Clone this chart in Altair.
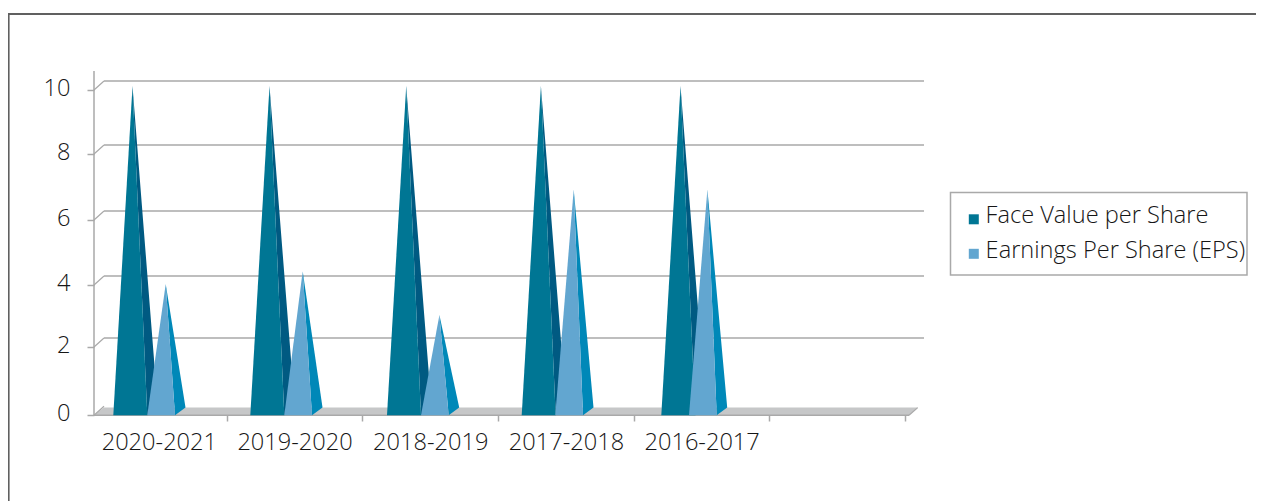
import altair as alt
import pandas as pd

# ---------- chart values ----------
categories = ["2020-2021", "2019-2020", "2018-2019", "2017-2018", "2016-2017"]
face_value = [10, 10, 10, 10, 10]
eps = [3.9, 4.3, 2.9, 6.8, 6.8]
y_ticks = [0, 2, 4, 6, 8, 10]
series_names = ["Face Value per Share", "Earnings Per Share (EPS)"]

# ---------- layout ----------
PLOT_W, PLOT_H = 830, 344
LEFT, TOP = 94, 71
SLOT = 135.7
X0 = 91
Y_DOM = [0, 2, 4, 6, 8, 10, 10.59]
Y_RNG = [344.3, 276, 214, 149, 83, 19, 0]
DEPTH_X, DEPTH_Y, GRID_LIFT, TIP_LIFT = 10.5, 7.7, 9, 4
F_START = [113.3 + SLOT * i + n for i, n in enumerate([0, 1.3, 2.3, 1.3, 5.2])]
E_START = [147.3 + SLOT * i + n for i, n in enumerate([0, 1.3, 2.3, 0.9, -1.1])]
F_W, F_TIP, E_W, E_TIP = 34, 19.2, 27.7, 18.4
C_F, C_F_SIDE, C_E, C_E_SIDE = "#007694", "#005a82", "#62a6d0", "#0088b8"
GREY = "#a9a9a9"
FONT = "Open Sans"
TEXT = "#161616"


def u(px):
    return (px - X0) / SLOT


def y_px(v):
    for i in range(len(Y_DOM) - 1):
        if v <= Y_DOM[i + 1] or i == len(Y_DOM) - 2:
            t = (v - Y_DOM[i]) / (Y_DOM[i + 1] - Y_DOM[i])
            return Y_RNG[i] + t * (Y_RNG[i + 1] - Y_RNG[i])


def y_val(px):
    for i in range(len(Y_DOM) - 1):
        if px >= Y_RNG[i + 1] or i == len(Y_DOM) - 2:
            t = (px - Y_RNG[i]) / (Y_RNG[i + 1] - Y_RNG[i])
            return Y_DOM[i] + t * (Y_DOM[i + 1] - Y_DOM[i])


def cone_rows(values, starts, w, tip, name):
    front, side = [], []
    for cat, v, s in zip(categories, values, starts):
        tip_py = y_px(v) - TIP_LIFT
        base = Y_RNG[0]
        back = base - DEPTH_Y
        front += [
            dict(cat=cat, series=name, x=u(s), y=0, y2=0),
            dict(cat=cat, series=name, x=u(s + tip), y=y_val(tip_py), y2=0),
            dict(cat=cat, series=name, x=u(s + w), y=0, y2=0),
        ]
        xa, xr, xb = s + tip, s + w, s + w + DEPTH_X
        edge = tip_py + (xr - xa) / (xb - xa) * (back - tip_py)
        side += [
            dict(cat=cat, x=u(xa), y=y_val(tip_py), y2=y_val(tip_py)),
            dict(cat=cat, x=u(xr), y=y_val(edge), y2=0),
            dict(cat=cat, x=u(xb), y=y_val(back), y2=y_val(back)),
        ]
    return pd.DataFrame(front), pd.DataFrame(side)


f_front, f_side = cone_rows(face_value, F_START, F_W, F_TIP, series_names[0])
e_front, e_side = cone_rows(eps, E_START, E_W, E_TIP, series_names[1])

xs = alt.Scale(domain=[u(LEFT), u(LEFT + PLOT_W)], nice=False, zero=False)
ys = alt.Scale(domain=Y_DOM, range=Y_RNG, nice=False, zero=False)

label_expr = (
    "datum.value % 1 == 0 ? '' : "
    + str(categories)
    + "[floor(datum.value)]"
)
x_axis = alt.Axis(
    values=[n / 2 for n in range(0, 13)],
    labelExpr=label_expr,
    domain=False,
    grid=False,
    tickColor=GREY,
    tickSize=6,
    tickWidth=1.5,
    tickOpacity=alt.expr("datum.value % 1 == 0 ? 1 : 0"),
    labelFont=FONT,
    labelFontSize=23.6,
    labelColor=TEXT,
    labelFontWeight=300,
    labelPadding=9,
    labelOverlap=False,
    labelBound=False,
    labelFlush=False,
    title=None,
)
y_axis = alt.Axis(
    values=y_ticks,
    domain=False,
    grid=False,
    tickColor=GREY,
    tickSize=7,
    tickWidth=1.5,
    labelFont=FONT,
    labelFontSize=23.6,
    labelColor=TEXT,
    labelFontWeight=300,
    labelPadding=17,
    labelOffset=-2,
    title=None,
)


def X():
    return alt.X("x:Q", scale=xs, axis=x_axis)


def Y():
    return alt.Y("y:Q", scale=ys, axis=y_axis)


# floor
floor_df = pd.DataFrame(
    [
        dict(x=u(LEFT), y=0, y2=0),
        dict(x=u(LEFT + 10), y=y_val(Y_RNG[0] - DEPTH_Y), y2=0),
        dict(x=u(909), y=y_val(Y_RNG[0] - DEPTH_Y), y2=0),
        dict(x=u(917.7), y=y_val(Y_RNG[0] - DEPTH_Y), y2=y_val(Y_RNG[0] - DEPTH_Y)),
    ]
)
floor = alt.Chart(floor_df).mark_area(color="#c6c7c8").encode(x=X(), y=Y(), y2="y2:Q")

# back-wall gridlines
grid_df = pd.DataFrame(
    [
        dict(x=u(LEFT + 10), x2=u(LEFT + PLOT_W), y=y_val(y_px(t) - GRID_LIFT))
        for t in y_ticks[1:]
    ]
)
grid = alt.Chart(grid_df).mark_rule(color=GREY, strokeWidth=1.5).encode(x=X(), x2="x2:Q", y=Y())

# wall-to-front connectors and axis edges
conn_rows = []
for t in y_ticks:
    conn_rows.append(dict(t=t, x=u(LEFT), y=t))
    conn_rows.append(dict(t=t, x=u(LEFT + 10), y=y_val(y_px(t) - GRID_LIFT)))
connectors = (
    alt.Chart(pd.DataFrame(conn_rows))
    .mark_line(color=GREY, strokeWidth=1.2)
    .encode(x=X(), y=Y(), detail="t:N")
)
edge_df = pd.DataFrame(
    [
        dict(x=u(LEFT), x2=u(LEFT), y=0, y2=Y_DOM[-1]),
        dict(x=u(LEFT), x2=u(909), y=0, y2=0),
    ]
)
edges = (
    alt.Chart(edge_df)
    .mark_rule(color=GREY, strokeWidth=1.5)
    .encode(x=X(), x2="x2:Q", y=Y(), y2="y2:Q")
)
right_edge = (
    alt.Chart(
        pd.DataFrame(
            [dict(x=u(909), y=0), dict(x=u(917.7), y=y_val(Y_RNG[0] - DEPTH_Y))]
        )
    )
    .mark_line(color=GREY, strokeWidth=1.2)
    .encode(x=X(), y=Y())
)


def side_layer(df, color):
    return alt.Chart(df).mark_area(color=color).encode(x=X(), y=Y(), y2="y2:Q", detail="cat:N")


legend = alt.Legend(
    title=None,
    orient="none",
    legendX=868,
    legendY=133.5,
    padding=0,
    symbolType="M-1,-0.4H1V1.6H-1Z",
    symbolSize=100,
    symbolStrokeWidth=0,
    labelFont=FONT,
    labelFontSize=23.6,
    labelFontWeight=300,
    labelColor=TEXT,
    labelOffset=0,
    labelLimit=400,
    rowPadding=9.5,
)


def front_layer(df):
    return (
        alt.Chart(df)
        .mark_area()
        .encode(
            x=X(),
            y=Y(),
            y2="y2:Q",
            detail="cat:N",
            color=alt.Color(
                "series:N",
                scale=alt.Scale(domain=series_names, range=[C_F, C_E]),
                legend=legend,
            ),
        )
    )


# chart chrome: outer frame and legend box, given in plot pixels
frame_top = alt.Chart(pd.DataFrame({"a": [0]})).mark_rule(color="#606060", strokeWidth=2).encode(
    x=alt.value(8 - LEFT),
    x2=alt.value(1264 - LEFT),
    y=alt.value(14 - TOP),
)
frame_left = alt.Chart(pd.DataFrame({"a": [0]})).mark_rule(color="#606060", strokeWidth=1.8).encode(
    x=alt.value(8.7 - LEFT),
    y=alt.value(14 - TOP),
    y2=alt.value(501 - TOP),
)
legend_box = alt.Chart(pd.DataFrame({"a": [0]})).mark_rect(
    fillOpacity=0, stroke=GREY, strokeWidth=1.5
).encode(
    x=alt.value(950.5 - LEFT),
    x2=alt.value(1247 - LEFT),
    y=alt.value(192.5 - TOP),
    y2=alt.value(275 - TOP),
)

chart = (
    alt.layer(
        floor,
        grid,
        connectors,
        edges,
        right_edge,
        side_layer(f_side, C_F_SIDE),
        front_layer(f_front),
        side_layer(e_side, C_E_SIDE),
        front_layer(e_front),
        legend_box,
        frame_top,
        frame_left,
    )
    .properties(
        width=PLOT_W,
        height=PLOT_H,
        padding={"left": LEFT - 8, "top": TOP - 8, "right": 1248 - (LEFT - 8) - PLOT_W, "bottom": 493 - (TOP - 8) - PLOT_H},
        autosize=alt.AutoSizeParams(type="none"),
        background="white",
    )
    .configure_view(stroke=None)
)

chart.save("out.html", embed_options={"renderer": "svg", "actions": False})
